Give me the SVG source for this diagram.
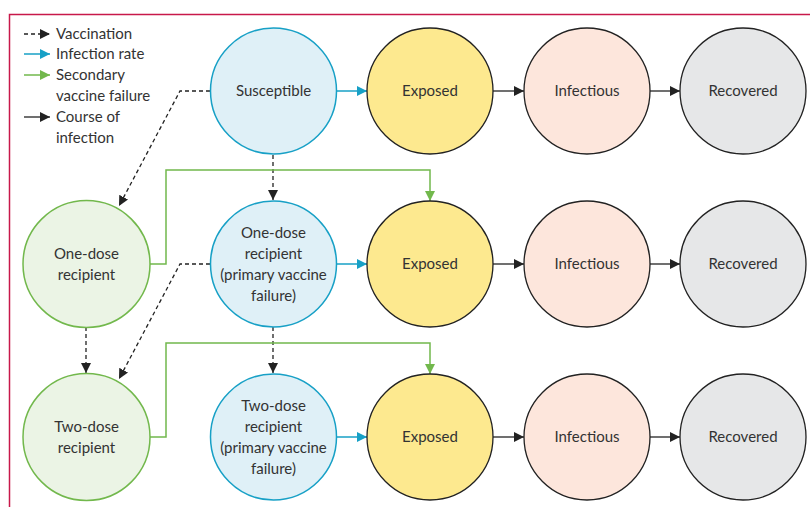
<svg xmlns="http://www.w3.org/2000/svg" width="810" height="507" viewBox="0 0 810 507">
<style>
text{font-family:Lato,"Open Sans","Liberation Sans",sans-serif;font-size:15px;fill:#333;}
.c text{text-anchor:middle;}
.blue circle{fill:#dff0f7;stroke:#17a0c6;stroke-width:1.5;}
.green circle{fill:#ebf4e5;stroke:#72b84c;stroke-width:1.5;}
.exp circle{fill:#fde98f;stroke:#222;stroke-width:1.3;}
.inf circle{fill:#fde6dc;stroke:#222;stroke-width:1.3;}
.rec circle{fill:#e6e7e8;stroke:#222;stroke-width:1.3;}
.dash{fill:none;stroke:#222;stroke-width:1.3;stroke-dasharray:4 3;}
.bl{fill:none;stroke:#17a0c6;stroke-width:1.5;}
.gr{fill:none;stroke:#72b84c;stroke-width:1.5;}
.bk{fill:none;stroke:#222;stroke-width:1.3;}
</style>
<defs>
<marker id="mk" viewBox="0 0 10 10" refX="10" refY="5" markerWidth="10" markerHeight="10" markerUnits="userSpaceOnUse" orient="auto"><path d="M0,0L10,5L0,10z" fill="#222"/></marker>
<marker id="mb" viewBox="0 0 10 10" refX="10" refY="5" markerWidth="10" markerHeight="10" markerUnits="userSpaceOnUse" orient="auto"><path d="M0,0L10,5L0,10z" fill="#17a0c6"/></marker>
<marker id="mg" viewBox="0 0 10 10" refX="10" refY="5" markerWidth="10" markerHeight="10" markerUnits="userSpaceOnUse" orient="auto"><path d="M0,0L10,5L0,10z" fill="#72b84c"/></marker>
</defs>
<path d="M9.5,507V14.5H810" fill="none" stroke="#c8184a" stroke-width="1.5"/>
<g id="legend">
<line class="dash" x1="24" y1="34" x2="50" y2="34" marker-end="url(#mk)"/>
<text x="56" y="39">Vaccination</text>
<line class="bl" x1="24" y1="54" x2="50" y2="54" marker-end="url(#mb)"/>
<text x="56" y="59">Infection rate</text>
<line class="gr" x1="24" y1="75" x2="50" y2="75" marker-end="url(#mg)"/>
<text x="56" y="80">Secondary</text>
<text x="56" y="101">vaccine failure</text>
<line class="bk" x1="24" y1="117" x2="50" y2="117" marker-end="url(#mk)"/>
<text x="56" y="122">Course of</text>
<text x="56" y="143">infection</text>
</g>
<g id="connectors">
<polyline class="dash" points="210,91 180,91 119,206" marker-end="url(#mk)"/>
<polyline class="dash" points="210,264 180,264 119,379" marker-end="url(#mk)"/>
<line class="dash" x1="273" y1="155" x2="273" y2="200" marker-end="url(#mk)"/>
<line class="dash" x1="273" y1="327" x2="273" y2="373" marker-end="url(#mk)"/>
<line class="dash" x1="86" y1="327" x2="86" y2="373" marker-end="url(#mk)"/>
<polyline class="gr" points="150,264 166,264 166,170 430,170 430,201" marker-end="url(#mg)"/>
<polyline class="gr" points="150,437 166,437 166,343 430,343 430,374" marker-end="url(#mg)"/>
<line class="bl" x1="337" y1="91" x2="367" y2="91" marker-end="url(#mb)"/>
<line class="bl" x1="337" y1="264" x2="367" y2="264" marker-end="url(#mb)"/>
<line class="bl" x1="337" y1="437" x2="367" y2="437" marker-end="url(#mb)"/>
<line class="bk" x1="493" y1="91" x2="524" y2="91" marker-end="url(#mk)"/>
<line class="bk" x1="650" y1="91" x2="680" y2="91" marker-end="url(#mk)"/>
<line class="bk" x1="493" y1="264" x2="524" y2="264" marker-end="url(#mk)"/>
<line class="bk" x1="650" y1="264" x2="680" y2="264" marker-end="url(#mk)"/>
<line class="bk" x1="493" y1="437" x2="524" y2="437" marker-end="url(#mk)"/>
<line class="bk" x1="650" y1="437" x2="680" y2="437" marker-end="url(#mk)"/>
</g>
<g id="susceptible" class="c blue"><circle cx="273.5" cy="91" r="63"/><text x="273.5" y="96">Susceptible</text></g>
<g id="exposed1" class="c exp"><circle cx="430" cy="91" r="63"/><text x="430" y="96">Exposed</text></g>
<g id="infectious1" class="c inf"><circle cx="587" cy="91" r="63"/><text x="587" y="96">Infectious</text></g>
<g id="recovered1" class="c rec"><circle cx="743" cy="91" r="63"/><text x="743" y="96">Recovered</text></g>
<g id="onedose" class="c green"><circle cx="86.5" cy="264" r="63.5"/><text x="86.5" y="259">One-dose</text><text x="86.5" y="280">recipient</text></g>
<g id="onedose-pvf" class="c blue"><circle cx="273.5" cy="264" r="63"/><text x="273.5" y="238">One-dose</text><text x="273.5" y="259">recipient</text><text x="273.5" y="280">(primary vaccine</text><text x="273.5" y="301">failure)</text></g>
<g id="exposed2" class="c exp"><circle cx="430" cy="264" r="63"/><text x="430" y="269">Exposed</text></g>
<g id="infectious2" class="c inf"><circle cx="587" cy="264" r="63"/><text x="587" y="269">Infectious</text></g>
<g id="recovered2" class="c rec"><circle cx="743" cy="264" r="63"/><text x="743" y="269">Recovered</text></g>
<g id="twodose" class="c green"><circle cx="86.5" cy="437" r="63.5"/><text x="86.5" y="432">Two-dose</text><text x="86.5" y="453">recipient</text></g>
<g id="twodose-pvf" class="c blue"><circle cx="273.5" cy="437" r="63"/><text x="273.5" y="411">Two-dose</text><text x="273.5" y="432">recipient</text><text x="273.5" y="453">(primary vaccine</text><text x="273.5" y="474">failure)</text></g>
<g id="exposed3" class="c exp"><circle cx="430" cy="437" r="63"/><text x="430" y="442">Exposed</text></g>
<g id="infectious3" class="c inf"><circle cx="587" cy="437" r="63"/><text x="587" y="442">Infectious</text></g>
<g id="recovered3" class="c rec"><circle cx="743" cy="437" r="63"/><text x="743" y="442">Recovered</text></g>
</svg>
